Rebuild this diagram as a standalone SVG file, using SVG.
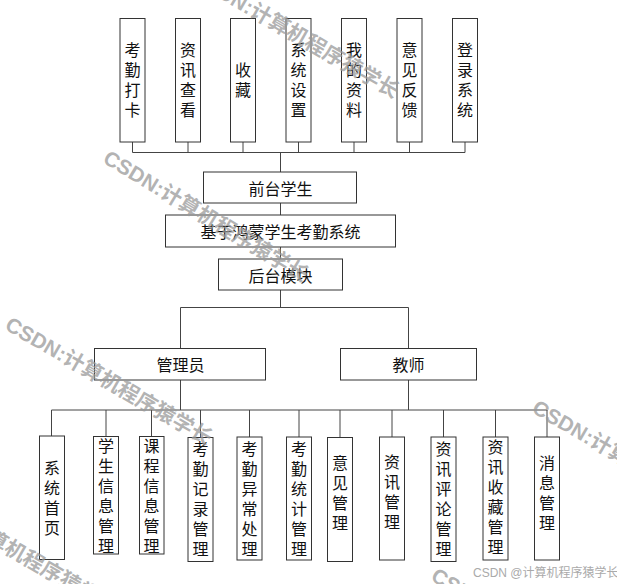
<svg xmlns="http://www.w3.org/2000/svg" width="617" height="584" viewBox="0 0 617 584">
<style>
.box{fill:#fff;stroke:#333;stroke-width:1}
.ln{fill:none;stroke:#444;stroke-width:1}
.t{font-family:"Noto Sans CJK SC","Noto Sans",sans-serif;font-size:16px;fill:#111;text-anchor:middle;dominant-baseline:central}
.v{font-family:"Noto Sans CJK SC","Noto Sans",sans-serif;font-size:16px;fill:#111;text-anchor:middle;writing-mode:vertical-rl;letter-spacing:4px}
.wm{font-family:"Liberation Sans","Noto Sans CJK SC",sans-serif;font-size:21px;font-weight:bold;fill:#9a9a9a;fill-opacity:0.75;text-anchor:middle;dominant-baseline:central}
.wm2{font-family:"Liberation Sans","Noto Sans CJK SC",sans-serif;font-size:12px;fill:#aaa}
</style>
<rect width="617" height="584" fill="#fff"/>
<g id="connectors">
<path class="ln" d="M132.5 142V152.5M188 142V152.5M243 142V152.5M298.5 142V152.5M354 142V152.5M409.5 142V152.5M465 142V152.5M132.5 152.5H465"/>
<path class="ln" d="M280.5 152.5V172M280.5 203V215M280.5 247V259M280.5 290V307.5M180.5 307.5H408.5M180.5 307.5V348.5M408.5 307.5V348.5"/>
<path class="ln" d="M180.5 380V410M408.5 380V410M51.5 410H547.5"/>
<path class="ln" d="M51.5 410V436M106 410V436.5M151.5 410V436.5M200.5 410V437.5M249.5 410V437M299 410V437M340 410V437.5M392 410V437M443.5 410V437M495.5 410V437M547 410V437"/>
</g>
<g id="n_kqdk"><rect class="box" x="120" y="18.5" width="25" height="123.5"/><text class="v" x="132.5" y="82">考勤打卡</text></g>
<g id="n_zxck"><rect class="box" x="175.5" y="18.5" width="25" height="123.5"/><text class="v" x="188" y="82">资讯查看</text></g>
<g id="n_sc"><rect class="box" x="230.5" y="18.5" width="25" height="123.5"/><text class="v" x="243" y="82">收藏</text></g>
<g id="n_xtsz"><rect class="box" x="286" y="18.5" width="25" height="123.5"/><text class="v" x="298.5" y="82">系统设置</text></g>
<g id="n_wdzl"><rect class="box" x="341.5" y="18.5" width="25" height="123.5"/><text class="v" x="354" y="82">我的资料</text></g>
<g id="n_yjfk"><rect class="box" x="397" y="18.5" width="25" height="123.5"/><text class="v" x="409.5" y="82">意见反馈</text></g>
<g id="n_dlxt"><rect class="box" x="452.5" y="18.5" width="25" height="123.5"/><text class="v" x="465" y="82">登录系统</text></g>
<g id="n_qtxs"><rect class="box" x="203.5" y="172" width="153" height="31"/><text class="t" x="280.5" y="187.5">前台学生</text></g>
<g id="n_root"><rect class="box" x="165.5" y="215" width="230" height="32"/><text class="t" x="280.5" y="231">基于鸿蒙学生考勤系统</text></g>
<g id="n_htmk"><rect class="box" x="218.5" y="259" width="124" height="31"/><text class="t" x="280.5" y="274.5">后台模块</text></g>
<g id="n_gly"><rect class="box" x="94.5" y="348.5" width="171" height="31.5"/><text class="t" x="180.5" y="364">管理员</text></g>
<g id="n_js"><rect class="box" x="340.5" y="348.5" width="136" height="31.5"/><text class="t" x="408.5" y="364">教师</text></g>
<g id="n_xtsy"><rect class="box" x="39.5" y="436" width="25" height="123.5"/><text class="v" x="52" y="500">系统首页</text></g>
<g id="n_xsxx"><rect class="box" x="93.5" y="436.5" width="25" height="117.5"/><text class="v" x="106" y="498">学生信息管理</text></g>
<g id="n_kcxx"><rect class="box" x="139.5" y="436.5" width="24.5" height="117.5"/><text class="v" x="151.5" y="498">课程信息管理</text></g>
<g id="n_kqjl"><rect class="box" x="188" y="437.5" width="25" height="124"/><text class="v" x="200.5" y="501">考勤记录管理</text></g>
<g id="n_kqyc"><rect class="box" x="237" y="437" width="25" height="123"/><text class="v" x="249.5" y="501">考勤异常处理</text></g>
<g id="n_kqtj"><rect class="box" x="286.5" y="437" width="25" height="123"/><text class="v" x="299" y="501">考勤统计管理</text></g>
<g id="n_yjgl"><rect class="box" x="327.5" y="437.5" width="25" height="124"/><text class="v" x="340" y="495">意见管理</text></g>
<g id="n_zxgl"><rect class="box" x="379.5" y="437" width="25" height="123"/><text class="v" x="392" y="494">资讯管理</text></g>
<g id="n_zxpl"><rect class="box" x="431" y="437" width="25" height="124.5"/><text class="v" x="443.5" y="501">资讯评论管理</text></g>
<g id="n_zxsc"><rect class="box" x="483" y="437" width="25" height="123"/><text class="v" x="495.5" y="499">资讯收藏管理</text></g>
<g id="n_xxgl"><rect class="box" x="534.5" y="437" width="25" height="123"/><text class="v" x="547" y="495">消息管理</text></g>
<g id="watermarks">
<text class="wm" transform="translate(296 34) rotate(30)">CSDN:计算机程序猿学长</text>
<text class="wm" transform="translate(206 216) rotate(31)">CSDN:计算机程序猿学长</text>
<text class="wm" transform="translate(109 381) rotate(30)">CSDN:计算机程序猿学长</text>
<text class="wm" transform="translate(636 464) rotate(30)">CSDN:计算机程序猿学长</text>
<text class="wm" transform="translate(14 550) rotate(30)">CSDN:计算机程序猿学长</text>
<text class="wm" transform="translate(535 632) rotate(30)">CSDN:计算机程序猿学长</text>
<text class="wm2" x="473" y="577">CSDN @计算机程序猿学长</text>
</g>
</svg>
